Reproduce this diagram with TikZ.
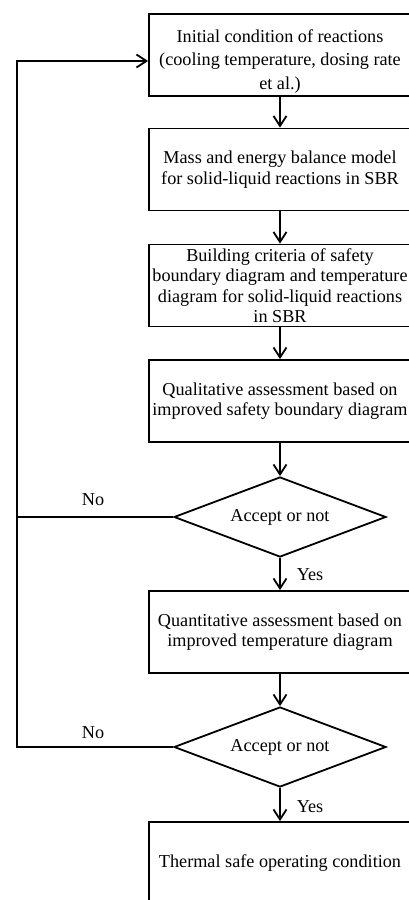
\documentclass[tikz,border=0pt]{standalone}
\usepackage{fontspec}
\setmainfont{Liberation Serif}
\usetikzlibrary{arrows.meta,shapes.geometric}
\begin{document}
\begin{tikzpicture}[x=1pt,y=-1pt,
  every node/.style={font=\fontsize{18.2}{20.5}\selectfont},
  box/.style={draw, line width=1.8pt, minimum width=262pt, minimum height=82pt,
    inner sep=0pt, align=center},
  decision/.style={draw, diamond, line width=1.8pt, minimum width=212pt,
    minimum height=80pt, aspect=2.65, inner sep=0pt, align=center},
  arr/.style={line width=1.8pt, -{Straight Barb[length=10pt,width=13pt,line width=1.8pt]}},
  plain/.style={line width=1.8pt},
  lbl/.style={inner sep=0pt}]
\useasboundingbox (0,0) rectangle (409,900);
\clip (0,0) rectangle (409,900);
\fill[white] (0,0) rectangle (409,900);

\node[box, font=\fontsize{18.2}{23.5}\selectfont] (b1) at (280,55)
  {\rule{0pt}{25pt}Initial condition of reactions\\(cooling temperature, dosing rate\\et al.)};
\node[box] (b2) at (280,169.5)
  {Mass and energy balance model\\for solid-liquid reactions in SBR};
\node[box] (b3) at (280,285.5)
  {Building criteria of safety\\boundary diagram and temperature\\diagram for solid-liquid reactions\\in SBR};
\node[box] (b4) at (280,401)
  {Qualitative assessment based on\\improved safety boundary diagram};
\node[decision] (d1) at (280,517) {Accept or not};
\node[box] (b5) at (280,632)
  {Quantitative assessment based on\\improved temperature diagram};
\node[decision] (d2) at (280,747) {Accept or not};
\node[box] (b6) at (280,863) {Thermal safe operating condition};

\node[lbl] (no1) at (93,500) {No};
\node[lbl] (no2) at (93,733) {No};
\node[lbl] (yes1) at (310,575) {Yes};
\node[lbl] (yes2) at (310,807) {Yes};

\draw[arr] (b1) -- (b2);
\draw[arr] (b2) -- (b3);
\draw[arr] (b3) -- (b4);
\draw[arr] (b4) -- (d1);
\draw[arr] (d1) -- (b5);
\draw[arr] (b5) -- (d2);
\draw[arr] (d2) -- (b6);

\coordinate (c1) at (17,517);
\coordinate (c2) at (17,747);
\coordinate (c3) at (17,61);
\draw[plain] (d1.west) -- (c1);
\draw[arr] (d2.west) -- (c2) -- (c3) -- (b1.west |- c3);
\end{tikzpicture}
\end{document}
